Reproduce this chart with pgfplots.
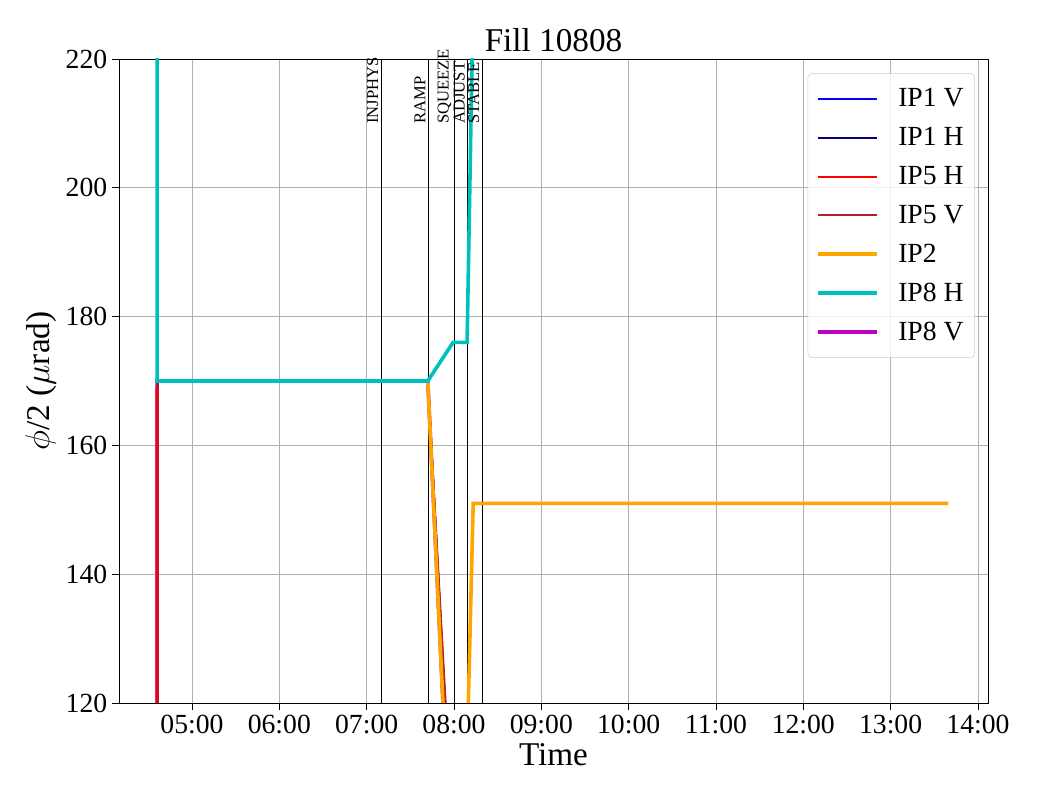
\documentclass[border=0pt]{standalone}
\usepackage{fontspec}
\setmainfont{Liberation Serif}
\usepackage{pgfplots}
\pgfplotsset{compat=1.18}
\definecolor{mcyan}{RGB}{0,191,191}
\definecolor{mmag}{RGB}{191,0,191}
\definecolor{mnavy}{RGB}{0,0,128}
\definecolor{mfire}{RGB}{178,34,34}
\definecolor{morange}{RGB}{255,165,0}
\definecolor{mgrid}{RGB}{176,176,176}
\definecolor{mleg}{RGB}{204,204,204}
\begin{document}
\begin{tikzpicture}
\path (0,0) rectangle (10.4in,8in);
\begin{axis}[
  at={(1.19in,0.97in)}, anchor=south west,
  scale only axis, width=8.69in, height=6.44in,
  xmin=4.164, xmax=14.115, ymin=120, ymax=220,
  xtick={5,6,7,8,9,10,11,12,13,14},
  xticklabels={05:00,06:00,07:00,08:00,09:00,10:00,11:00,12:00,13:00,14:00},
  ytick={120,140,160,180,200,220},
  tick align=outside, tick pos=left,
  major tick length=5pt,
  tick style={black, line width=0.6pt},
  axis line style={line width=0.6pt},
  grid=major, major grid style={mgrid, line width=0.6pt},
  /pgf/number format/assume math mode=true,
  tick label style={font=\fontsize{20}{24}\selectfont},
  xlabel={Time}, ylabel={$\phi$/2 ($\mu$rad)},
  label style={font=\fontsize{24}{28}\selectfont},
  title={Fill 10808}, title style={font=\fontsize{24}{28}\selectfont, yshift=-4pt},
  legend style={at={(0.9850,0.978)}, anchor=north east, draw=mleg, rounded corners=3pt,
    fill=white, fill opacity=0.8, text opacity=1, draw opacity=1,
    font=\fontsize{20}{24}\selectfont, row sep=9.4pt, inner xsep=6pt, inner ysep=9pt,
    /tikz/every odd column/.append style={column sep=12pt}},
  legend cell align=left,
  legend image code/.code={\draw[#1] (0cm,0cm) -- (1.5cm,0cm);},
]
% phase lines
\addplot[black, line width=0.7pt, forget plot] coordinates {(7.168,120) (7.168,220)};
\addplot[black, line width=0.7pt, forget plot] coordinates {(7.708,120) (7.708,220)};
\addplot[black, line width=0.7pt, forget plot] coordinates {(8.003,120) (8.003,220)};
\addplot[black, line width=0.7pt, forget plot] coordinates {(8.157,120) (8.157,220)};
\addplot[black, line width=0.7pt, forget plot] coordinates {(8.324,120) (8.324,220)};
\coordinate (l1) at (axis cs:7.168,209.5);
\coordinate (l2) at (axis cs:7.708,209.5);
\coordinate (l3) at (axis cs:8.003,209.5);
\coordinate (l4) at (axis cs:8.157,209.5);
\coordinate (l5) at (axis cs:8.324,209.5);
% data (z-order)
\addplot[mmag, line width=2.6pt, forget plot] coordinates {(4.6,100) (4.6,170) (7.70,170) (7.95,98.2)};
\addplot[blue, line width=1.4pt, forget plot] coordinates {(4.6,100) (4.6,170) (7.70,170) (7.95,106.5)};
\addplot[mnavy, line width=1.4pt, forget plot] coordinates {(4.6,100) (4.6,170) (7.70,170) (7.95,106.5)};
\addplot[red, line width=1.4pt, forget plot] coordinates {(4.6,100) (4.6,170) (7.70,170) (7.95,106.5)};
\addplot[mfire, line width=1.4pt, forget plot] coordinates {(4.6,100) (4.6,170) (7.70,170) (7.96,106.5)};
\addplot[red, opacity=0.55, line width=2.6pt, forget plot] coordinates {(4.6,100) (4.6,169)};
\addplot[morange, line width=2.6pt, forget plot] coordinates {(4.6,170) (7.70,170) (7.95,98.2) (8.125,98.2) (8.22,151) (13.66,151)};
\addplot[mcyan, line width=2.6pt, forget plot] coordinates {(4.6,260) (4.6,170) (7.70,170) (7.99,176) (8.15,176) (8.22,230)};
% legend
\addlegendimage{blue, line width=1.4pt}\addlegendentry{IP1 V}
\addlegendimage{mnavy, line width=1.4pt}\addlegendentry{IP1 H}
\addlegendimage{red, line width=1.4pt}\addlegendentry{IP5 H}
\addlegendimage{mfire, line width=1.4pt}\addlegendentry{IP5 V}
\addlegendimage{morange, line width=2.6pt}\addlegendentry{IP2}
\addlegendimage{mcyan, line width=2.6pt}\addlegendentry{IP8 H}
\addlegendimage{mmag, line width=2.6pt}\addlegendentry{IP8 V}
\end{axis}
\foreach \c/\t in {l1/INJPHYS, l2/RAMP, l3/SQUEEZE, l4/ADJUST, l5/STABLE}{
  \node[rotate=90, anchor=south west, inner sep=2pt, font=\fontsize{12}{14}\selectfont] at (\c) {\t};
}
\end{tikzpicture}
\end{document}
